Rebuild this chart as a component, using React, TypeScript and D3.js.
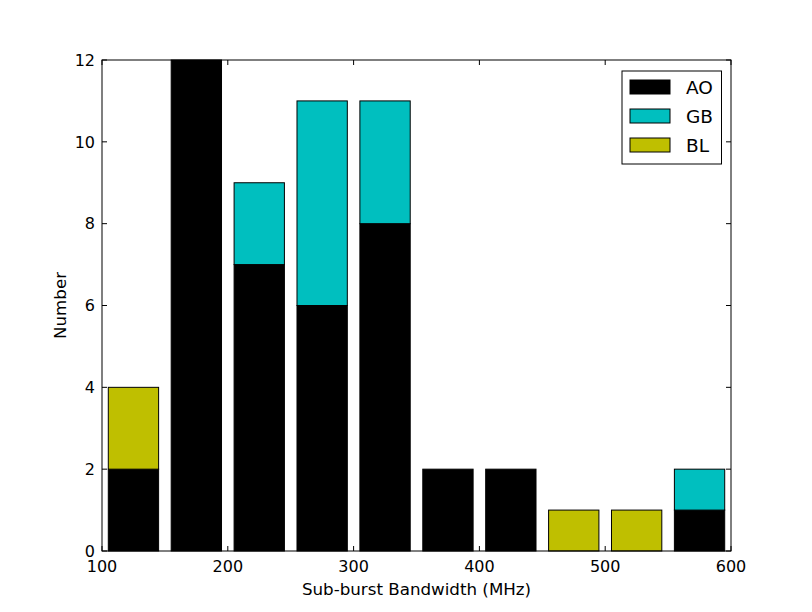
import React from "react";
import * as d3 from "d3";

// histogram bins (MHz, left edge), bin width 50
const binStarts = [100, 150, 200, 250, 300, 350, 400, 450, 500, 550];
const aoCounts = [2, 12, 7, 6, 8, 2, 2, 0, 0, 1];
const gbCounts = [0, 0, 2, 5, 3, 0, 0, 0, 0, 1];
const blCounts = [2, 0, 0, 0, 0, 0, 0, 1, 1, 0];

const seriesNames = ["AO", "GB", "BL"];
const seriesColors = ["#000000", "#00bfbf", "#bfbf00"];

const xTicks = [100, 200, 300, 400, 500, 600];
const yTicks = [0, 2, 4, 6, 8, 10, 12];

const width = 812;
const height = 612;
const margin = { top: 60, right: 81, bottom: 61, left: 102 };
const font = "'DejaVu Sans', sans-serif";

const App = () => {
  const x = d3
    .scaleLinear()
    .domain([100, 600])
    .range([margin.left, width - margin.right]);
  const y = d3
    .scaleLinear()
    .domain([0, 12])
    .range([height - margin.bottom, margin.top]);

  const rows = binStarts.map((b, i) => ({
    bin: b,
    AO: aoCounts[i],
    GB: gbCounts[i],
    BL: blCounts[i],
  }));
  const stacked = d3.stack<any>().keys(seriesNames)(rows);

  const binWidth = 50;
  const barWidth = binWidth * 0.8; // rwidth 0.8
  const tickLen = 5;

  return (
    <div style={{ position: "absolute", left: 0, top: 0 }}>
      <svg width={width} height={height} style={{ display: "block" }}>
        <rect width={width} height={height} fill="#ffffff" />

        {/* bars */}
        {stacked.map((s, si) => (
          <g key={seriesNames[si]}>
            {s.map((d: any, i: number) =>
              d[1] - d[0] > 0 ? (
                <rect
                  key={i}
                  x={x(d.data.bin + (binWidth - barWidth) / 2)}
                  y={y(d[1])}
                  width={x(d.data.bin + barWidth) - x(d.data.bin)}
                  height={y(d[0]) - y(d[1])}
                  fill={seriesColors[si]}
                  stroke="#000"
                  strokeWidth={1}
                />
              ) : null
            )}
          </g>
        ))}

        {/* frame */}
        <rect
          x={margin.left}
          y={margin.top}
          width={width - margin.left - margin.right}
          height={height - margin.top - margin.bottom}
          fill="none"
          stroke="#000"
          strokeWidth={1}
        />

        {/* x ticks */}
        {xTicks.map((t) => (
          <g key={"x" + t}>
            <line
              x1={x(t)}
              x2={x(t)}
              y1={y(0)}
              y2={y(0) - tickLen}
              stroke="#000"
            />
            <line
              x1={x(t)}
              x2={x(t)}
              y1={y(12)}
              y2={y(12) + tickLen}
              stroke="#000"
            />
            <text
              x={x(t)}
              y={y(0) + 21}
              textAnchor="middle"
              fontFamily={font}
              fontSize={16}
            >
              {t}
            </text>
          </g>
        ))}

        {/* y ticks */}
        {yTicks.map((t) => (
          <g key={"y" + t}>
            <line
              x1={x(100)}
              x2={x(100) + tickLen}
              y1={y(t)}
              y2={y(t)}
              stroke="#000"
            />
            <line
              x1={x(600)}
              x2={x(600) - tickLen}
              y1={y(t)}
              y2={y(t)}
              stroke="#000"
            />
            <text
              x={x(100) - 7}
              y={y(t)}
              dy="0.36em"
              textAnchor="end"
              fontFamily={font}
              fontSize={16}
            >
              {t}
            </text>
          </g>
        ))}

        {/* axis labels */}
        <text
          x={(x(100) + x(600)) / 2}
          y={595}
          textAnchor="middle"
          fontFamily={font}
          fontSize={16.7}
        >
          Sub-burst Bandwidth (MHz)
        </text>
        <text
          transform={`translate(66,${(y(0) + y(12)) / 2}) rotate(-90)`}
          textAnchor="middle"
          fontFamily={font}
          fontSize={16.7}
        >
          Number
        </text>

        {/* legend */}
        <g>
          <rect
            x={622}
            y={71}
            width={99.5}
            height={93}
            fill="#fff"
            stroke="#000"
            strokeWidth={1}
          />
          {seriesNames.map((n, i) => (
            <g key={n} transform={`translate(0,${87 + i * 29})`}>
              <rect
                x={630}
                y={-7}
                width={40}
                height={14}
                fill={seriesColors[i]}
                stroke="#000"
                strokeWidth={1}
              />
              <text
                x={686}
                y={0}
                dy="0.36em"
                fontFamily={font}
                fontSize={18.5}
              >
                {n}
              </text>
            </g>
          ))}
        </g>
      </svg>
    </div>
  );
};

export default App;
